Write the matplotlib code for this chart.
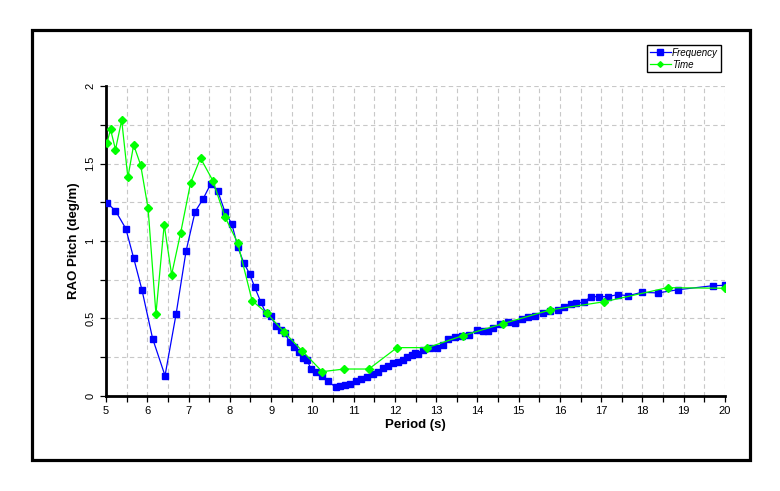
import matplotlib
matplotlib.use("Agg")
import matplotlib.pyplot as plt
from matplotlib.patches import Rectangle
from matplotlib.ticker import MultipleLocator

plt.rcParams['font.family'] = ['Liberation Sans', 'DejaVu Sans']

# Frequency domain result (blue squares)
freq_period = [5.02, 5.23, 5.48, 5.67, 5.87, 6.13, 6.43, 6.70, 6.94, 7.16,
               7.35, 7.54, 7.71, 7.88, 8.05, 8.19, 8.34, 8.48, 8.60, 8.75,
               8.87, 8.99, 9.11, 9.23, 9.33, 9.45, 9.55, 9.67, 9.77, 9.87,
               9.97, 10.09, 10.24, 10.38, 10.57, 10.67, 10.80, 10.91, 11.06, 11.19,
               11.32, 11.46, 11.59, 11.72, 11.83, 11.95, 12.08, 12.20, 12.29, 12.41,
               12.49, 12.57, 12.69, 12.85, 13.01, 13.17, 13.29, 13.46, 13.62, 13.80,
               13.98, 14.13, 14.26, 14.38, 14.55, 14.75, 14.91, 15.07, 15.23, 15.40,
               15.58, 15.76, 15.96, 16.10, 16.28, 16.40, 16.58, 16.75, 16.95, 17.16,
               17.40, 17.66, 17.98, 18.37, 18.87, 19.72, 20.0]
freq_rao = [1.247, 1.195, 1.080, 0.890, 0.686, 0.370, 0.131, 0.531, 0.935, 1.190,
            1.270, 1.370, 1.320, 1.190, 1.110, 0.963, 0.858, 0.788, 0.704, 0.607,
            0.537, 0.518, 0.454, 0.427, 0.405, 0.350, 0.318, 0.285, 0.243, 0.232,
            0.174, 0.157, 0.131, 0.095, 0.056, 0.066, 0.071, 0.079, 0.099, 0.112,
            0.125, 0.142, 0.157, 0.180, 0.196, 0.211, 0.221, 0.232, 0.250, 0.265,
            0.280, 0.268, 0.297, 0.307, 0.312, 0.329, 0.366, 0.378, 0.384, 0.394,
            0.426, 0.421, 0.418, 0.437, 0.465, 0.479, 0.469, 0.495, 0.508, 0.518,
            0.538, 0.546, 0.555, 0.572, 0.594, 0.598, 0.606, 0.641, 0.641, 0.641,
            0.654, 0.647, 0.669, 0.665, 0.686, 0.712, 0.714]

# Time domain result (green diamonds)
time_period = [5.02, 5.11, 5.23, 5.38, 5.53, 5.67, 5.84, 6.02, 6.21, 6.41,
               6.59, 6.81, 7.05, 7.29, 7.59, 7.88, 8.19, 8.54, 8.89, 9.31,
               9.75, 10.24, 10.77, 11.37, 12.05, 12.79, 13.64, 14.61, 15.76, 17.07,
               18.61, 20.0]
time_rao = [1.63, 1.72, 1.59, 1.78, 1.41, 1.62, 1.49, 1.21, 0.529, 1.105,
            0.783, 1.054, 1.376, 1.535, 1.389, 1.157, 0.989, 0.615, 0.536, 0.415,
            0.292, 0.157, 0.174, 0.174, 0.312, 0.312, 0.389, 0.466, 0.555, 0.608,
            0.699, 0.695]

fig = plt.figure(figsize=(7.8, 4.91), dpi=100)
ax = fig.add_axes([0.1359, 0.1935, 0.7936, 0.6313])

# outer frame
fig.patches.append(Rectangle((0.041, 0.063), 0.9205, 0.876, transform=fig.transFigure,
                             fill=False, edgecolor='black', linewidth=2.3))

ax.plot(freq_period, freq_rao, color='#0000ff', lw=0.9, marker='s', ms=5,
        mec='#0000ff', mfc='#0000ff', label='Frequency', zorder=3)
ax.plot(time_period, time_rao, color='#00ff00', lw=0.9, marker='D', ms=3.6,
        mec='#00ff00', mfc='#00ff00', label='Time', zorder=4)

ax.set_xlim(5, 20)
ax.set_ylim(0, 2)
ax.xaxis.set_major_locator(MultipleLocator(1))
ax.xaxis.set_minor_locator(MultipleLocator(0.5))
ax.yaxis.set_major_locator(MultipleLocator(0.5))
ax.yaxis.set_minor_locator(MultipleLocator(0.25))
ax.set_yticks([0, 0.5, 1, 1.5, 2])
ax.set_yticklabels(['0', '0.5', '1', '1.5', '2'])

ax.grid(True, which='both', color='#c8c8c8', linestyle=(0, (4, 3)), linewidth=0.8)
ax.set_axisbelow(True)

for s in ['top', 'right']:
    ax.spines[s].set_visible(False)
for s in ['left', 'bottom']:
    ax.spines[s].set_linewidth(2.0)

ax.tick_params(which='both', direction='out', length=4, width=0.9, colors='black')
ax.tick_params(axis='both', which='major', labelsize=8, pad=3.5)
ax.tick_params(axis='y', labelrotation=90)
for lab in ax.get_yticklabels():
    lab.set_va('center')

ax.set_xlabel('Period (s)', fontsize=9.5, fontweight='bold', labelpad=2)
ax.set_ylabel('RAO Pitch (deg/m)', fontsize=9.5, fontweight='bold', labelpad=4)

leg = fig.legend(loc='upper right', bbox_to_anchor=(0.924, 0.909), frameon=True,
                 fancybox=False, edgecolor='black', framealpha=1,
                 prop={'style': 'italic', 'size': 7}, handlelength=2.2,
                 handletextpad=0.1, borderpad=0.3, labelspacing=0.2, borderaxespad=0,
                 markerscale=0.8)
leg.get_frame().set_linewidth(1.0)

fig.savefig('out.png', dpi=100)
